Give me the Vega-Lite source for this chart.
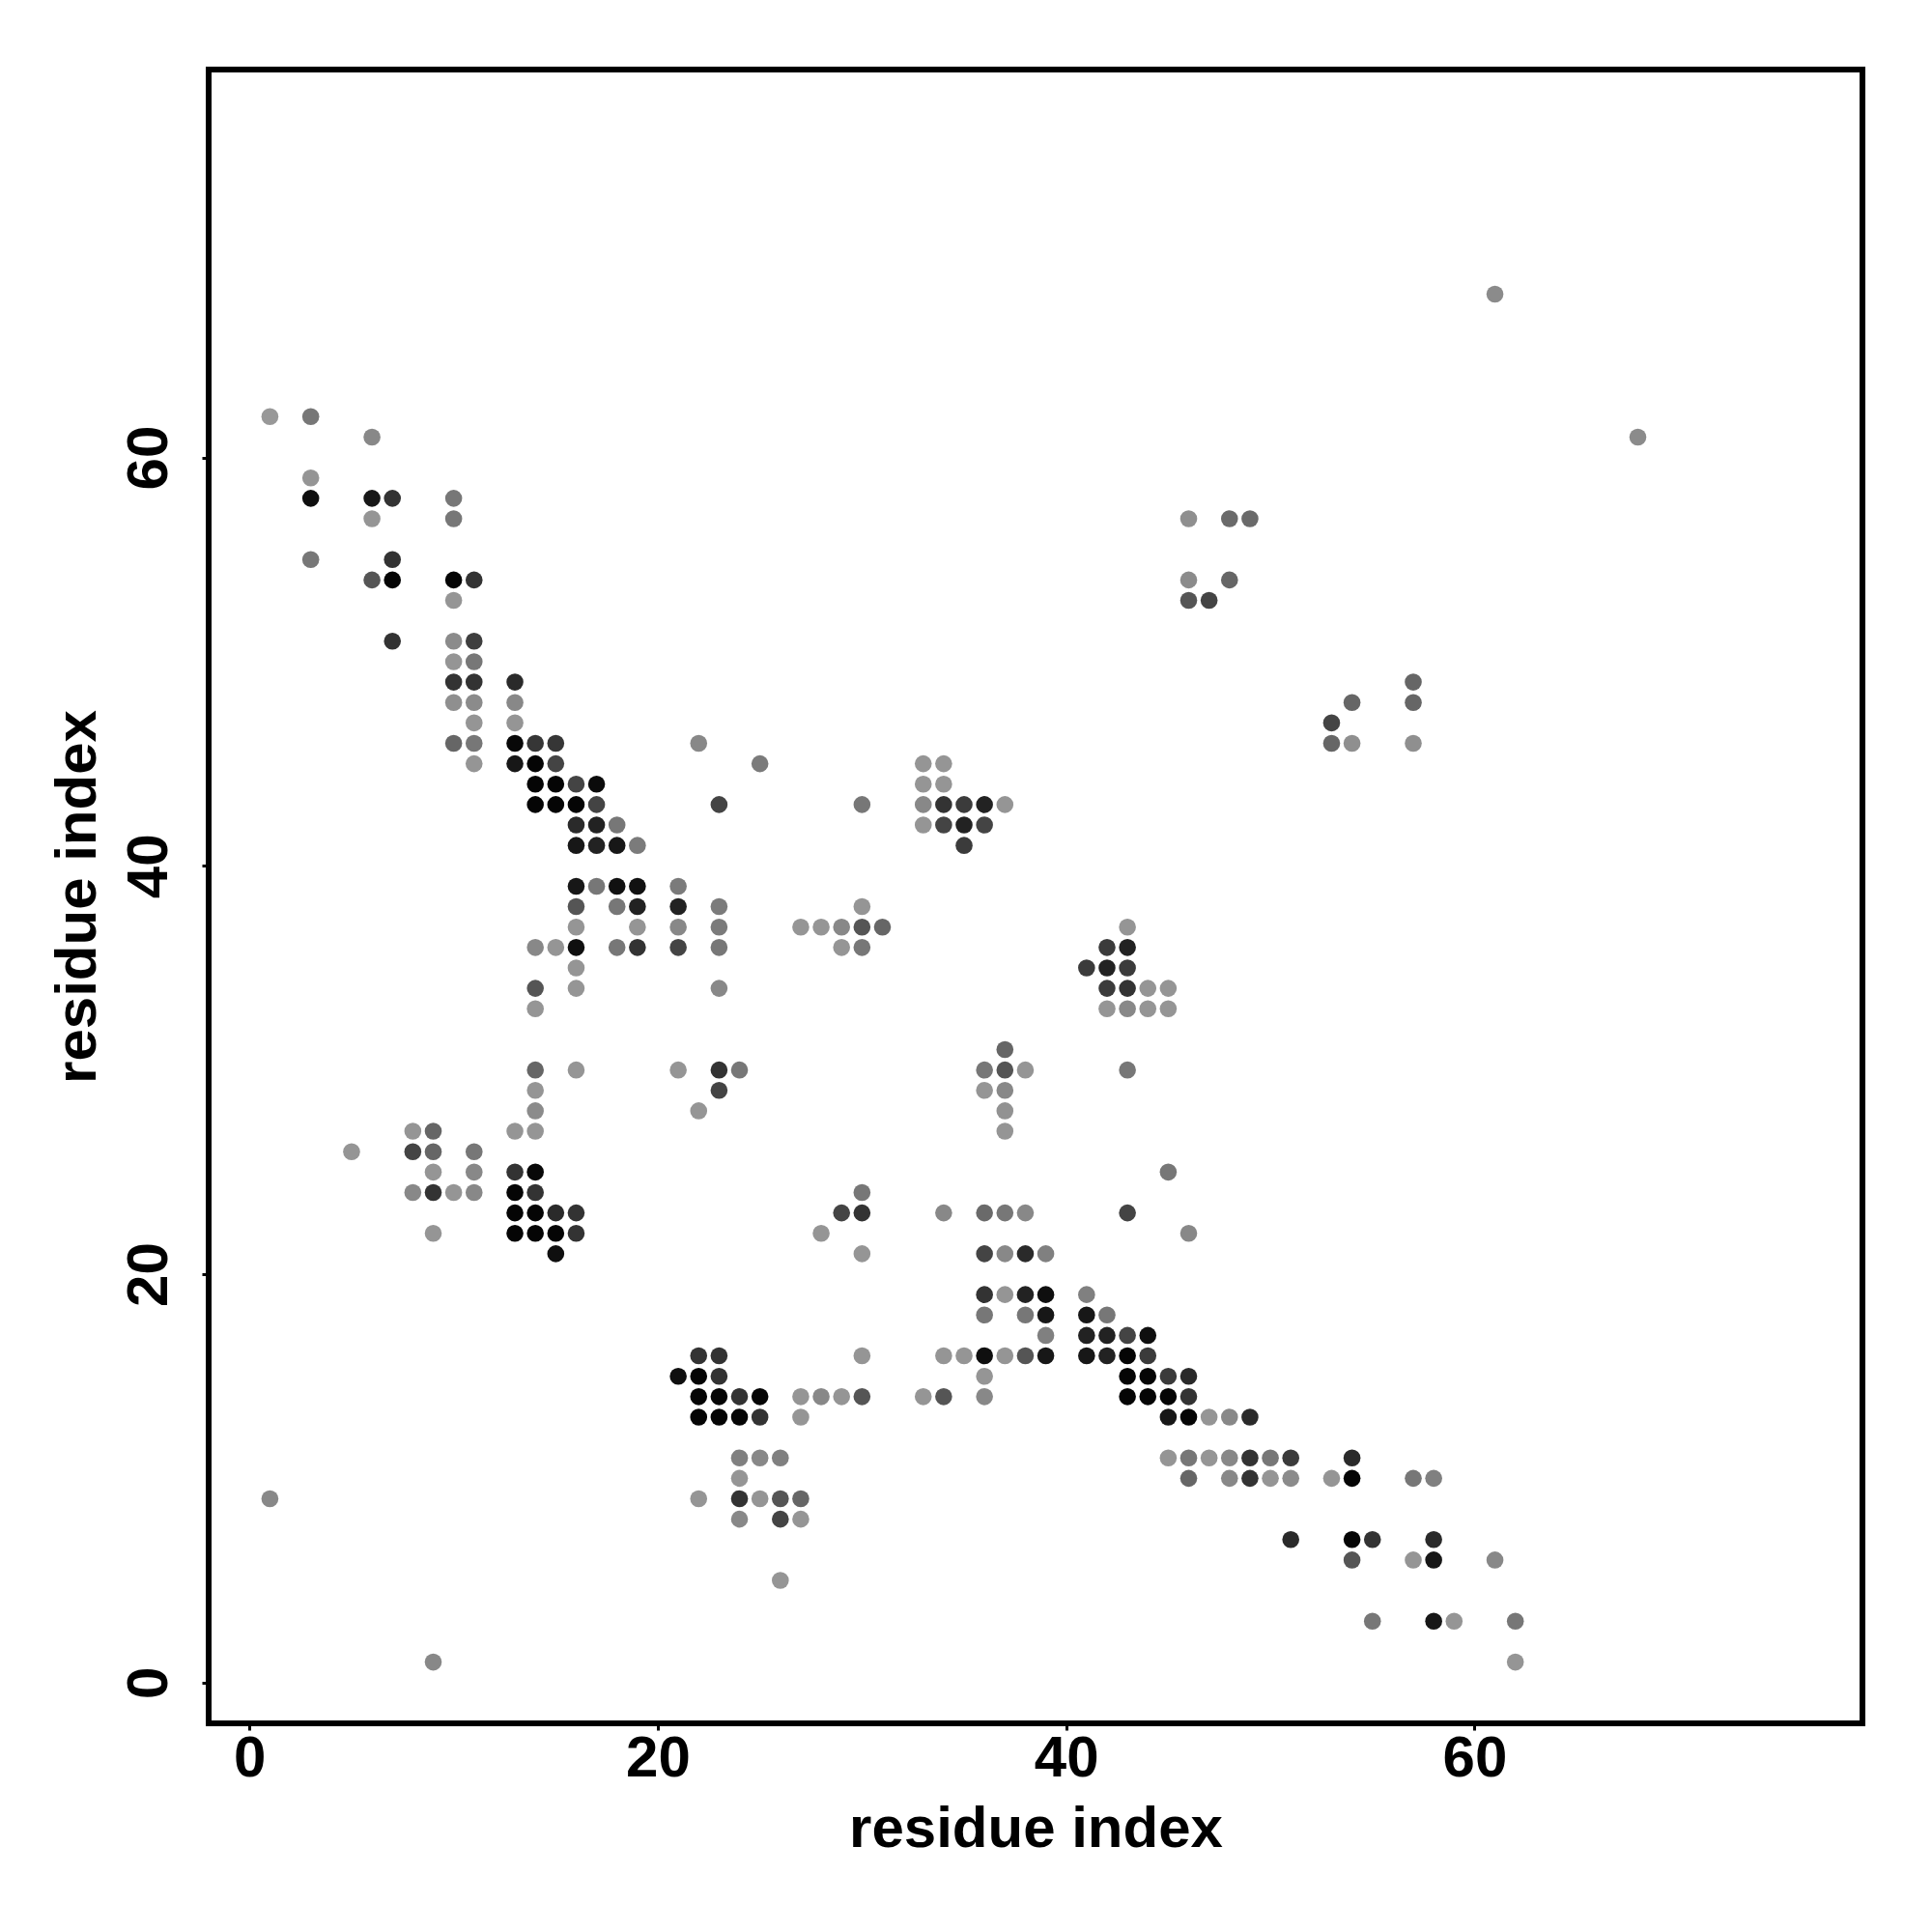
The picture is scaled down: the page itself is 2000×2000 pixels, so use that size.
{
  "$schema": "https://vega.github.io/schema/vega-lite/v6.json",
  "width": 1712,
  "height": 1712,
  "autosize": {"type": "none"},
  "padding": {"left": 216, "top": 72, "right": 72, "bottom": 216},
  "background": "white",
  "config": {
    "view": {"stroke": "black", "strokeWidth": 6},
    "axis": {
      "grid": false,
      "domain": false,
      "ticks": true,
      "tickColor": "black",
      "tickWidth": 3,
      "tickSize": 7,
      "labelFont": "Liberation Sans",
      "labelFontWeight": "bold",
      "labelFontSize": 60,
      "labelColor": "black",
      "titleFont": "Liberation Sans",
      "titleFontWeight": "bold",
      "titleFontSize": 60,
      "titleColor": "black"
    }
  },
  "data": {
    "values": [
      {"x": 1, "y": 62, "score": 0.01}, {"x": 3, "y": 62, "score": 0.23}, {"x": 6, "y": 61, "score": 0.12},
      {"x": 3, "y": 59, "score": 0.03}, {"x": 3, "y": 58, "score": 0.9}, {"x": 6, "y": 58, "score": 0.85},
      {"x": 7, "y": 58, "score": 0.67}, {"x": 10, "y": 58, "score": 0.23}, {"x": 10, "y": 57, "score": 0.23},
      {"x": 6, "y": 57, "score": 0.03}, {"x": 3, "y": 55, "score": 0.23}, {"x": 7, "y": 55, "score": 0.67},
      {"x": 6, "y": 54, "score": 0.45}, {"x": 7, "y": 54, "score": 0.97}, {"x": 10, "y": 54, "score": 0.97},
      {"x": 11, "y": 54, "score": 0.67}, {"x": 10, "y": 53, "score": 0.03}, {"x": 7, "y": 51, "score": 0.67},
      {"x": 10, "y": 51, "score": 0.1}, {"x": 11, "y": 51, "score": 0.6}, {"x": 10, "y": 50, "score": 0.03},
      {"x": 11, "y": 50, "score": 0.23}, {"x": 10, "y": 49, "score": 0.67}, {"x": 11, "y": 49, "score": 0.67},
      {"x": 13, "y": 49, "score": 0.73}, {"x": 10, "y": 48, "score": 0.07}, {"x": 11, "y": 48, "score": 0.1},
      {"x": 13, "y": 48, "score": 0.12}, {"x": 11, "y": 47, "score": 0.03}, {"x": 13, "y": 47, "score": 0.03},
      {"x": 10, "y": 46, "score": 0.34}, {"x": 11, "y": 46, "score": 0.23}, {"x": 13, "y": 46, "score": 0.95},
      {"x": 14, "y": 46, "score": 0.65}, {"x": 15, "y": 46, "score": 0.65}, {"x": 22, "y": 46, "score": 0.12},
      {"x": 11, "y": 45, "score": 0.03}, {"x": 13, "y": 45, "score": 0.85}, {"x": 14, "y": 45, "score": 0.97},
      {"x": 15, "y": 45, "score": 0.56}, {"x": 25, "y": 45, "score": 0.2}, {"x": 14, "y": 44, "score": 0.97},
      {"x": 15, "y": 44, "score": 0.97}, {"x": 16, "y": 44, "score": 0.56}, {"x": 17, "y": 44, "score": 0.93},
      {"x": 14, "y": 43, "score": 0.97}, {"x": 15, "y": 43, "score": 0.97}, {"x": 16, "y": 43, "score": 0.97},
      {"x": 17, "y": 43, "score": 0.56}, {"x": 23, "y": 43, "score": 0.56}, {"x": 16, "y": 42, "score": 0.73},
      {"x": 17, "y": 42, "score": 0.78}, {"x": 18, "y": 42, "score": 0.23}, {"x": 16, "y": 41, "score": 0.85},
      {"x": 17, "y": 41, "score": 0.78}, {"x": 18, "y": 41, "score": 0.85}, {"x": 19, "y": 41, "score": 0.2},
      {"x": 16, "y": 39, "score": 0.85}, {"x": 17, "y": 39, "score": 0.23}, {"x": 18, "y": 39, "score": 0.89},
      {"x": 19, "y": 39, "score": 0.89}, {"x": 21, "y": 39, "score": 0.2}, {"x": 16, "y": 38, "score": 0.45},
      {"x": 18, "y": 38, "score": 0.23}, {"x": 19, "y": 38, "score": 0.78}, {"x": 21, "y": 38, "score": 0.78},
      {"x": 23, "y": 38, "score": 0.2}, {"x": 16, "y": 37, "score": 0.03}, {"x": 19, "y": 37, "score": 0.03},
      {"x": 21, "y": 37, "score": 0.12}, {"x": 23, "y": 37, "score": 0.2}, {"x": 14, "y": 36, "score": 0.12},
      {"x": 15, "y": 36, "score": 0.03}, {"x": 16, "y": 36, "score": 0.9}, {"x": 18, "y": 36, "score": 0.23},
      {"x": 19, "y": 36, "score": 0.67}, {"x": 21, "y": 36, "score": 0.56}, {"x": 23, "y": 36, "score": 0.23},
      {"x": 16, "y": 35, "score": 0.03}, {"x": 14, "y": 34, "score": 0.45}, {"x": 16, "y": 34, "score": 0.03},
      {"x": 23, "y": 34, "score": 0.12}, {"x": 14, "y": 33, "score": 0.03}, {"x": 14, "y": 30, "score": 0.34},
      {"x": 16, "y": 30, "score": 0.03}, {"x": 21, "y": 30, "score": 0.03}, {"x": 23, "y": 30, "score": 0.67},
      {"x": 24, "y": 30, "score": 0.23}, {"x": 14, "y": 29, "score": 0.03}, {"x": 23, "y": 29, "score": 0.56},
      {"x": 14, "y": 28, "score": 0.1}, {"x": 22, "y": 28, "score": 0.03}, {"x": 8, "y": 27, "score": 0.03},
      {"x": 9, "y": 27, "score": 0.34}, {"x": 13, "y": 27, "score": 0.03}, {"x": 14, "y": 27, "score": 0.03},
      {"x": 5, "y": 26, "score": 0.03}, {"x": 8, "y": 26, "score": 0.56}, {"x": 9, "y": 26, "score": 0.34},
      {"x": 11, "y": 26, "score": 0.23}, {"x": 9, "y": 25, "score": 0.03}, {"x": 11, "y": 25, "score": 0.12},
      {"x": 13, "y": 25, "score": 0.67}, {"x": 14, "y": 25, "score": 0.95}, {"x": 8, "y": 24, "score": 0.12},
      {"x": 9, "y": 24, "score": 0.67}, {"x": 10, "y": 24, "score": 0.03}, {"x": 11, "y": 24, "score": 0.12},
      {"x": 13, "y": 24, "score": 0.97}, {"x": 14, "y": 24, "score": 0.67}, {"x": 13, "y": 23, "score": 0.97},
      {"x": 14, "y": 23, "score": 0.97}, {"x": 15, "y": 23, "score": 0.73}, {"x": 16, "y": 23, "score": 0.67},
      {"x": 9, "y": 22, "score": 0.03}, {"x": 13, "y": 22, "score": 0.97}, {"x": 14, "y": 22, "score": 0.97},
      {"x": 15, "y": 22, "score": 0.97}, {"x": 16, "y": 22, "score": 0.67}, {"x": 15, "y": 21, "score": 0.9},
      {"x": 1, "y": 9, "score": 0.12}, {"x": 9, "y": 1, "score": 0.12},
      {"x": 21, "y": 15, "score": 0.9}, {"x": 22, "y": 16, "score": 0.67}, {"x": 23, "y": 16, "score": 0.67},
      {"x": 22, "y": 15, "score": 0.97}, {"x": 23, "y": 15, "score": 0.67}, {"x": 22, "y": 14, "score": 0.97},
      {"x": 23, "y": 14, "score": 0.97}, {"x": 24, "y": 14, "score": 0.67}, {"x": 25, "y": 14, "score": 0.97},
      {"x": 22, "y": 13, "score": 0.97}, {"x": 23, "y": 13, "score": 0.97}, {"x": 24, "y": 13, "score": 0.97},
      {"x": 25, "y": 13, "score": 0.67}, {"x": 22, "y": 9, "score": 0.03}, {"x": 27, "y": 14, "score": 0.03},
      {"x": 28, "y": 14, "score": 0.12}, {"x": 29, "y": 14, "score": 0.03}, {"x": 30, "y": 14, "score": 0.45},
      {"x": 27, "y": 13, "score": 0.03}, {"x": 33, "y": 14, "score": 0.03}, {"x": 34, "y": 14, "score": 0.45},
      {"x": 36, "y": 14, "score": 0.12}, {"x": 24, "y": 11, "score": 0.17}, {"x": 25, "y": 11, "score": 0.12},
      {"x": 26, "y": 11, "score": 0.17}, {"x": 24, "y": 10, "score": 0.03}, {"x": 24, "y": 9, "score": 0.67},
      {"x": 25, "y": 9, "score": 0.03}, {"x": 26, "y": 9, "score": 0.45}, {"x": 27, "y": 9, "score": 0.34},
      {"x": 24, "y": 8, "score": 0.12}, {"x": 26, "y": 8, "score": 0.56}, {"x": 27, "y": 8, "score": 0.03},
      {"x": 26, "y": 5, "score": 0.03}, {"x": 30, "y": 16, "score": 0.03}, {"x": 34, "y": 16, "score": 0.03},
      {"x": 35, "y": 16, "score": 0.03}, {"x": 36, "y": 16, "score": 0.9}, {"x": 37, "y": 16, "score": 0.03},
      {"x": 38, "y": 16, "score": 0.45}, {"x": 39, "y": 16, "score": 0.85}, {"x": 36, "y": 15, "score": 0.03},
      {"x": 28, "y": 22, "score": 0.03}, {"x": 30, "y": 21, "score": 0.03}, {"x": 46, "y": 22, "score": 0.12},
      {"x": 36, "y": 21, "score": 0.56}, {"x": 37, "y": 21, "score": 0.12}, {"x": 38, "y": 21, "score": 0.73},
      {"x": 39, "y": 21, "score": 0.17}, {"x": 36, "y": 19, "score": 0.67}, {"x": 37, "y": 19, "score": 0.03},
      {"x": 38, "y": 19, "score": 0.78}, {"x": 39, "y": 19, "score": 0.9}, {"x": 41, "y": 19, "score": 0.17},
      {"x": 36, "y": 18, "score": 0.23}, {"x": 38, "y": 18, "score": 0.23}, {"x": 39, "y": 18, "score": 0.85},
      {"x": 41, "y": 18, "score": 0.85}, {"x": 42, "y": 18, "score": 0.23}, {"x": 39, "y": 17, "score": 0.17},
      {"x": 41, "y": 17, "score": 0.78}, {"x": 42, "y": 17, "score": 0.78}, {"x": 43, "y": 17, "score": 0.56},
      {"x": 44, "y": 17, "score": 0.9}, {"x": 41, "y": 16, "score": 0.85}, {"x": 42, "y": 16, "score": 0.78},
      {"x": 43, "y": 16, "score": 0.97}, {"x": 44, "y": 16, "score": 0.62}, {"x": 43, "y": 15, "score": 0.97},
      {"x": 44, "y": 15, "score": 0.97}, {"x": 45, "y": 15, "score": 0.62}, {"x": 46, "y": 15, "score": 0.73},
      {"x": 43, "y": 14, "score": 0.97}, {"x": 44, "y": 14, "score": 0.97}, {"x": 45, "y": 14, "score": 0.97},
      {"x": 46, "y": 14, "score": 0.67}, {"x": 45, "y": 13, "score": 0.85}, {"x": 46, "y": 13, "score": 0.97},
      {"x": 47, "y": 13, "score": 0.03}, {"x": 48, "y": 13, "score": 0.12}, {"x": 49, "y": 13, "score": 0.73},
      {"x": 45, "y": 11, "score": 0.03}, {"x": 46, "y": 11, "score": 0.23}, {"x": 47, "y": 11, "score": 0.03},
      {"x": 48, "y": 11, "score": 0.12}, {"x": 49, "y": 11, "score": 0.67}, {"x": 50, "y": 11, "score": 0.23},
      {"x": 51, "y": 11, "score": 0.62}, {"x": 54, "y": 11, "score": 0.73}, {"x": 46, "y": 10, "score": 0.34},
      {"x": 48, "y": 10, "score": 0.12}, {"x": 49, "y": 10, "score": 0.67}, {"x": 50, "y": 10, "score": 0.03},
      {"x": 51, "y": 10, "score": 0.1}, {"x": 53, "y": 10, "score": 0.03}, {"x": 54, "y": 10, "score": 0.97},
      {"x": 57, "y": 10, "score": 0.23}, {"x": 58, "y": 10, "score": 0.17}, {"x": 51, "y": 7, "score": 0.73},
      {"x": 54, "y": 7, "score": 0.97}, {"x": 55, "y": 7, "score": 0.67}, {"x": 58, "y": 7, "score": 0.73},
      {"x": 54, "y": 6, "score": 0.45}, {"x": 57, "y": 6, "score": 0.03}, {"x": 58, "y": 6, "score": 0.85},
      {"x": 61, "y": 6, "score": 0.12}, {"x": 55, "y": 3, "score": 0.23}, {"x": 58, "y": 3, "score": 0.85},
      {"x": 59, "y": 3, "score": 0.03}, {"x": 62, "y": 3, "score": 0.23}, {"x": 62, "y": 1, "score": 0.03},
      {"x": 30, "y": 43, "score": 0.23}, {"x": 33, "y": 45, "score": 0.03}, {"x": 34, "y": 45, "score": 0.03},
      {"x": 33, "y": 44, "score": 0.03}, {"x": 34, "y": 44, "score": 0.03}, {"x": 33, "y": 43, "score": 0.12},
      {"x": 34, "y": 43, "score": 0.67}, {"x": 35, "y": 43, "score": 0.62}, {"x": 36, "y": 43, "score": 0.78},
      {"x": 37, "y": 43, "score": 0.03}, {"x": 33, "y": 42, "score": 0.03}, {"x": 34, "y": 42, "score": 0.56},
      {"x": 35, "y": 42, "score": 0.78}, {"x": 36, "y": 42, "score": 0.56}, {"x": 35, "y": 41, "score": 0.62},
      {"x": 30, "y": 38, "score": 0.03}, {"x": 27, "y": 37, "score": 0.03}, {"x": 28, "y": 37, "score": 0.03},
      {"x": 29, "y": 37, "score": 0.12}, {"x": 30, "y": 37, "score": 0.45}, {"x": 31, "y": 37, "score": 0.34},
      {"x": 29, "y": 36, "score": 0.03}, {"x": 30, "y": 36, "score": 0.23}, {"x": 43, "y": 37, "score": 0.03},
      {"x": 42, "y": 36, "score": 0.62}, {"x": 43, "y": 36, "score": 0.78}, {"x": 41, "y": 35, "score": 0.62},
      {"x": 42, "y": 35, "score": 0.78}, {"x": 43, "y": 35, "score": 0.62}, {"x": 42, "y": 34, "score": 0.62},
      {"x": 43, "y": 34, "score": 0.67}, {"x": 44, "y": 34, "score": 0.03}, {"x": 45, "y": 34, "score": 0.03},
      {"x": 42, "y": 33, "score": 0.03}, {"x": 43, "y": 33, "score": 0.12}, {"x": 44, "y": 33, "score": 0.03},
      {"x": 45, "y": 33, "score": 0.03}, {"x": 37, "y": 31, "score": 0.34}, {"x": 36, "y": 30, "score": 0.23},
      {"x": 37, "y": 30, "score": 0.45}, {"x": 38, "y": 30, "score": 0.03}, {"x": 43, "y": 30, "score": 0.23},
      {"x": 36, "y": 29, "score": 0.03}, {"x": 37, "y": 29, "score": 0.12}, {"x": 37, "y": 28, "score": 0.05},
      {"x": 37, "y": 27, "score": 0.03}, {"x": 45, "y": 25, "score": 0.23}, {"x": 30, "y": 24, "score": 0.23},
      {"x": 29, "y": 23, "score": 0.56}, {"x": 30, "y": 23, "score": 0.67}, {"x": 34, "y": 23, "score": 0.12},
      {"x": 36, "y": 23, "score": 0.31}, {"x": 37, "y": 23, "score": 0.23}, {"x": 38, "y": 23, "score": 0.12},
      {"x": 43, "y": 23, "score": 0.56},
      {"x": 61, "y": 68, "score": 0.1}, {"x": 68, "y": 61, "score": 0.1}, {"x": 46, "y": 57, "score": 0.07},
      {"x": 48, "y": 57, "score": 0.31}, {"x": 49, "y": 57, "score": 0.31}, {"x": 46, "y": 54, "score": 0.1},
      {"x": 48, "y": 54, "score": 0.34}, {"x": 46, "y": 53, "score": 0.45}, {"x": 47, "y": 53, "score": 0.56},
      {"x": 57, "y": 49, "score": 0.34}, {"x": 54, "y": 48, "score": 0.34}, {"x": 57, "y": 48, "score": 0.34},
      {"x": 53, "y": 47, "score": 0.56}, {"x": 53, "y": 46, "score": 0.34}, {"x": 54, "y": 46, "score": 0.07},
      {"x": 57, "y": 46, "score": 0.07}
    ]
  },
  "mark": {"type": "circle", "size": 310, "opacity": 1, "strokeWidth": 0},
  "encoding": {
    "x": {
      "field": "x",
      "type": "quantitative",
      "scale": {"domain": [-2, 79], "nice": false, "zero": false},
      "axis": {
        "values": [0, 20, 40, 60],
        "title": "residue index",
        "labelBaseline": "top",
        "labelAlign": "center",
        "labelPadding": 0,
        "titleBaseline": "alphabetic",
        "titleAlign": "center",
        "titleX": 856,
        "titleY": 127
      }
    },
    "y": {
      "field": "y",
      "type": "quantitative",
      "scale": {"domain": [-2, 79], "nice": false, "zero": false},
      "axis": {
        "values": [0, 20, 40, 60],
        "title": "residue index",
        "labelAngle": -90,
        "labelAlign": "center",
        "labelBaseline": "alphabetic",
        "labelPadding": 37,
        "titleAngle": -90,
        "titleBaseline": "alphabetic",
        "titleAlign": "center",
        "titleX": -118,
        "titleY": 856
      }
    },
    "color": {
      "field": "score",
      "type": "quantitative",
      "scale": {"domain": [0, 1], "range": ["#9a9a9a", "#000000"], "interpolate": "rgb"},
      "legend": null
    }
  }
}
